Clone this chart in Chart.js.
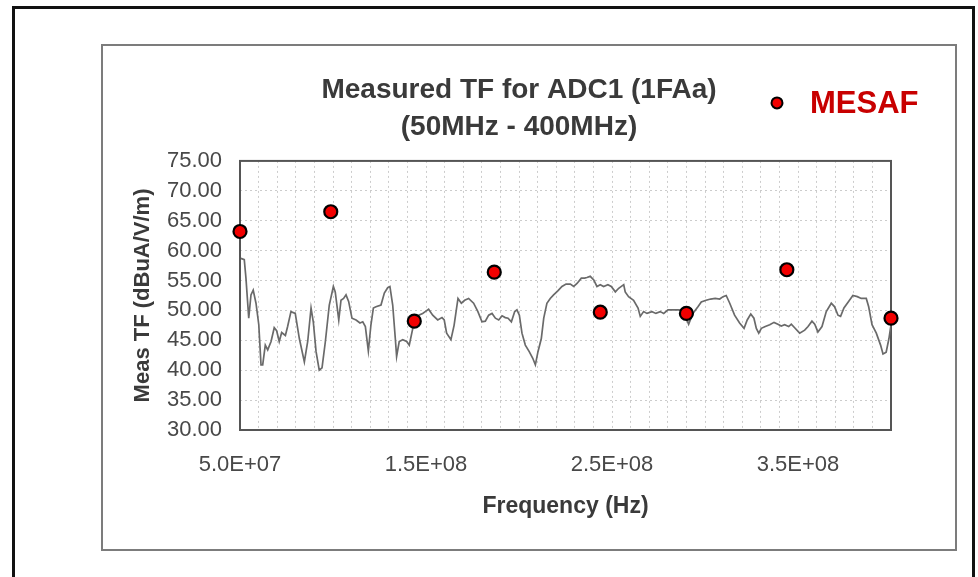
<!DOCTYPE html>
<html>
<head>
<meta charset="utf-8">
<title>Measured TF for ADC1 (1FAa)</title>
<script src="https://cdn.jsdelivr.net/npm/chart.js@4.4.1/dist/chart.umd.min.js"></script>
<style>
  html, body { margin: 0; padding: 0; background: #fff; }
  #page { position: relative; width: 978px; height: 577px; overflow: hidden; }
  .frame-outer { position: absolute; left: 12px; top: 6px; width: 957px; height: 620px; border: 3px solid #111; border-bottom: none; }
  .frame-inner { position: absolute; left: 101px; top: 44px; width: 852px; height: 503px; border: 2px solid #7c7c7c; }
  #chart { position: absolute; left: 0; top: 0; }
</style>
</head>
<body>
<div id="page">
  <div class="frame-outer"></div>
  <div class="frame-inner"></div>
  <canvas id="chart" width="978" height="577"></canvas>
</div>
<script>
// measured transfer function (frequency in MHz, value in dBuA/V/m)
const tfFreqMHz = [
  50.5, 52.3, 53.2, 54.7, 55.9, 57.1, 58.6, 60.1, 61.3, 62.2, 63.6, 64.9, 66.7, 68.4, 69.7, 71.1,
  72.4, 74.4, 75.6, 77.4, 79.7, 81.9, 84.6, 86.4, 88.2, 89.4, 90.9, 92.6, 94.1, 95.9, 98.0, 100.2,
  101.2, 103.1, 104.3, 105.7, 107.0, 108.4, 110.2, 112.4, 114.5, 116.0, 117.4, 119.0, 120.4, 121.7,
  123.1, 125.8, 127.6, 129.4, 130.6, 132.1, 133.5, 134.2, 135.6, 137.5, 139.6, 141.0, 142.5, 143.7,
  146.1, 148.2, 149.6, 151.4, 153.6, 156.3, 158.6, 159.8, 161.1, 163.4, 165.1, 166.5, 167.2, 169.0,
  170.8, 172.9, 175.6, 177.9, 180.1, 181.9, 183.7, 185.5, 187.3, 189.1, 190.9, 192.6, 194.1, 195.9,
  197.7, 198.9, 200.2, 201.6, 203.4, 205.5, 207.4, 208.8, 210.2, 212.0, 213.3, 215.0, 216.8, 218.6,
  221.0, 223.1, 225.3, 227.6, 229.4, 231.2, 233.5, 235.3, 236.5, 238.3, 240.2, 241.9, 243.7, 245.5,
  247.8, 249.6, 251.8, 253.6, 255.4, 256.3, 257.1, 258.9, 261.6, 264.0, 265.2, 267.0, 268.8, 271.5,
  273.6, 275.9, 277.8, 280.1, 282.6, 285.5, 288.2, 291.2, 293.5, 296.2, 298.0, 300.6, 303.0, 305.5,
  307.9, 309.7, 311.4, 313.3, 315.9, 318.6, 321.0, 322.7, 324.6, 326.3, 327.6, 328.9, 330.3, 332.4,
  334.8, 337.1, 339.2, 341.0, 342.8, 345.0, 346.4, 348.2, 350.9, 353.6, 355.4, 357.5, 359.0, 360.7,
  362.9, 365.2, 367.9, 369.7, 371.5, 372.9, 374.7, 377.2, 379.5, 381.9, 384.0, 386.7, 388.0, 389.8,
  392.1, 394.4, 395.7, 397.4, 398.9, 400.0
];
const tfValues = [
  58.7, 58.5, 55.4, 48.7, 52.6, 53.4, 51.2, 47.6, 40.9, 40.9, 44.2, 43.4, 44.8, 47.1, 46.6, 44.8,
  46.3, 45.8, 47.3, 49.8, 49.5, 45.3, 41.4, 44.8, 50.4, 48.1, 43.1, 40.0, 40.4, 44.8, 50.9, 54.0,
  53.1, 48.4, 51.7, 52.0, 52.6, 51.5, 48.7, 48.4, 47.9, 48.1, 47.3, 43.2, 47.6, 50.4,
  50.6, 50.9, 52.9, 53.8, 54.0, 50.9, 45.3, 42.3, 44.8, 45.1, 44.8, 44.2, 46.4, 48.1,
  49.2, 49.5, 49.8, 50.2, 49.2, 48.4, 48.8, 48.4, 46.2, 45.1, 47.5, 50.5, 52.0, 51.2,
  51.7, 52.0, 51.2, 49.8, 48.1, 48.2, 49.2, 49.5, 48.7, 48.4, 49.1, 48.8, 48.7, 48.1,
  49.8, 50.1, 49.2, 46.2, 44.2, 43.1, 42.0, 40.9, 43.1, 45.3, 48.7, 51.2, 52.0, 52.6,
  53.3, 54.0, 54.4, 54.4, 54.0, 54.5, 55.4, 55.4, 55.5, 55.7, 55.1, 54.0, 54.3, 54.0,
  54.3, 54.0, 53.1, 53.7, 54.1, 54.3, 53.1, 52.3, 51.7, 50.4, 49.0, 49.8, 49.5, 49.8,
  49.5, 49.8, 49.5, 50.1, 50.1, 50.1, 50.0, 47.7, 49.5, 50.6, 51.4, 51.7, 51.9, 52.0,
  51.9, 52.3, 52.5, 51.2, 49.2, 47.9, 47.0, 48.4, 49.4, 48.7, 47.0, 46.2, 47.0, 47.3,
  47.6, 48.0, 47.7, 47.4, 47.6, 47.3, 47.7, 47.1, 46.2, 46.7, 47.3, 48.2, 47.7, 46.4,
  47.3, 49.8, 51.2, 50.6, 49.2, 49.0, 50.4, 51.5, 52.5, 52.3, 52.0, 52.0, 50.6, 47.6,
  46.2, 44.2, 42.7, 43.0, 45.3, 47.6
];

// MESAF points
const mesafFreqMHz = [50, 98.8, 143.7, 186.7, 243.7, 290, 344, 400];
const mesafValues = [63.2, 66.5, 48.2, 56.4, 49.7, 49.5, 56.8, 48.7];

const yTicks = [30, 35, 40, 45, 50, 55, 60, 65, 70, 75];

const TEXT = '#3a3a3a';
const TICK_TEXT = '#484848';
Chart.defaults.font.family = "'Liberation Sans', Arial, sans-serif";

function sciLabel(v) {
    const parts = v.toExponential(1).split('e');
    const exp = parts[1];
    return parts[0] + 'E' + exp[0] + exp.slice(1).padStart(2, '0');
}

// plot frame + MESAF legend entry next to the title
const plotFrame = {
    id: 'plotFrame',
    beforeDatasetsDraw(chart) {
        const { ctx, chartArea: a } = chart;
        ctx.save();
        ctx.strokeStyle = '#555';
        ctx.lineWidth = 2;
        ctx.strokeRect(a.left, a.top, a.right - a.left, a.bottom - a.top);
        ctx.restore();
    }
};

const mesafLegend = {
    id: 'mesafLegend',
    afterDraw(chart) {
        const { ctx, chartArea: a } = chart;
        const ds = chart.data.datasets[0];
        const cx = a.right - 114, cy = a.top - 58;
        ctx.save();
        ctx.beginPath();
        ctx.arc(cx, cy, 5.5, 0, Math.PI * 2);
        ctx.fillStyle = ds.pointBackgroundColor;
        ctx.fill();
        ctx.lineWidth = 2;
        ctx.strokeStyle = ds.pointBorderColor;
        ctx.stroke();
        ctx.font = "bold 31px 'Liberation Sans', Arial, sans-serif";
        ctx.fillStyle = '#c80000';
        ctx.textBaseline = 'middle';
        ctx.fillText(ds.label, cx + 33, cy + 2);
        ctx.restore();
    }
};

new Chart(document.getElementById('chart'), {
    type: 'scatter',
    data: {
        datasets: [
            {
                label: 'MESAF',
                data: mesafFreqMHz.map((f, i) => ({ x: f * 1e6, y: mesafValues[i] })),
                pointRadius: 6.5,
                pointBackgroundColor: '#f20000',
                pointBorderColor: '#000',
                pointBorderWidth: 2.2,
                showLine: false,
                clip: false
            },
            {
                label: 'Meas TF',
                data: tfFreqMHz.map((f, i) => ({ x: f * 1e6, y: tfValues[i] })),
                showLine: true,
                borderColor: '#6a6a6a',
                borderWidth: 1.7,
                pointRadius: 0,
                tension: 0
            }
        ]
    },
    options: {
        responsive: false,
        animation: false,
        events: [],
        layout: { padding: { top: 60, left: 147, right: 87, bottom: 40 } },
        plugins: {
            legend: { display: false },
            tooltip: { enabled: false },
            title: {
                display: true,
                text: ['Measured TF for ADC1 (1FAa)', '(50MHz - 400MHz)'],
                color: TEXT,
                font: { size: 28, weight: 'bold', lineHeight: 1.32 },
                padding: { top: 11.5, bottom: 15.5 }
            }
        },
        scales: {
            x: {
                type: 'linear',
                min: 5e7,
                max: 4e8,
                afterFit: s => { s.height = 107; },
                ticks: {
                    stepSize: 1e7,
                    autoSkip: false,
                    maxRotation: 0,
                    minRotation: 0,
                    padding: 22,
                    color: TICK_TEXT,
                    font: { size: 22 },
                    callback: v => (Math.round(v / 1e7) % 10 === 5 && v < 4e8) ? sciLabel(v) : ''
                },
                grid: { color: 'rgba(0,0,0,0.2)', drawTicks: false, lineWidth: 1 },
                border: { display: false, dash: [2, 3] },
                title: {
                    display: true,
                    text: 'Frequency (Hz)',
                    color: TEXT,
                    font: { size: 23, weight: 'bold' },
                    padding: { top: 0, bottom: 17 }
                }
            },
            y: {
                min: 30,
                max: 75,
                afterFit: s => { s.width = 93; },
                afterBuildTicks: s => { s.ticks = yTicks.map(v => ({ value: v })); },
                ticks: {
                    padding: 18,
                    color: TICK_TEXT,
                    font: { size: 22 },
                    callback: v => v.toFixed(2)
                },
                grid: { color: 'rgba(0,0,0,0.2)', drawTicks: false, lineWidth: 1 },
                border: { display: false, dash: [2, 3] },
                title: {
                    display: true,
                    text: 'Meas TF (dBuA/V/m)',
                    color: TEXT,
                    font: { size: 22, weight: 'bold' },
                    padding: { top: -17, bottom: 0 }
                }
            }
        }
    },
    plugins: [plotFrame, mesafLegend]
});
</script>
</body>
</html>
